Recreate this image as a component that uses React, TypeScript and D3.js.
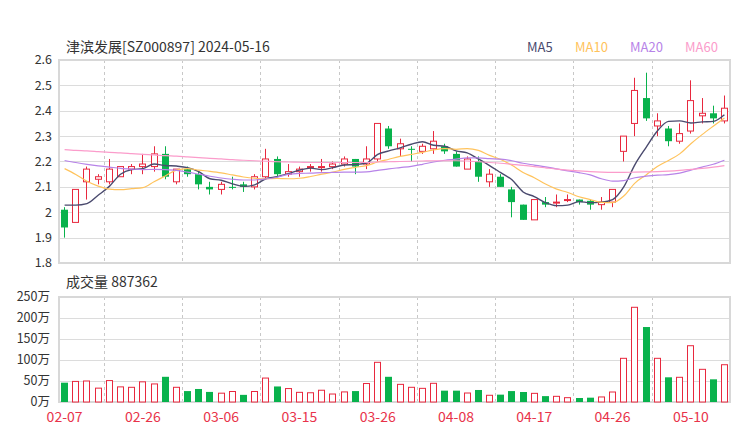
import * as d3 from "d3";

// daily K-line, 津滨发展 SZ000897, 60 sessions from 02-07
const opens = [
  2.01, 1.96, 2.12, 2.13, 2.12, 2.14, 2.17, 2.18, 2.18, 2.23,
  2.12, 2.17, 2.15, 2.1, 2.09, 2.1, 2.11, 2.1, 2.14, 2.21,
  2.15, 2.16, 2.18, 2.18, 2.18, 2.19, 2.21, 2.19, 2.21, 2.33,
  2.25, 2.25, 2.24, 2.25, 2.26, 2.23, 2.17, 2.2, 2.12, 2.14,
  2.09, 2.03, 1.97, 2.04, 2.04, 2.05, 2.05, 2.045, 2.03, 2.04,
  2.24, 2.35, 2.45, 2.34, 2.33, 2.28, 2.32, 2.38, 2.39, 2.36,
];
const highs = [
  2.02, 2.09, 2.18, 2.15, 2.21, 2.18, 2.19, 2.23, 2.26, 2.26,
  2.17, 2.18, 2.16, 2.12, 2.12, 2.14, 2.12, 2.15, 2.25, 2.22,
  2.19, 2.18, 2.19, 2.21, 2.2, 2.22, 2.21, 2.26, 2.35, 2.34,
  2.29, 2.26, 2.27, 2.32, 2.27, 2.24, 2.22, 2.22, 2.17, 2.15,
  2.1, 2.03, 2.05, 2.06, 2.07, 2.07, 2.05, 2.05, 2.06, 2.09,
  2.3, 2.53, 2.55, 2.39, 2.34, 2.35, 2.52, 2.45, 2.42, 2.46,
];
const lows = [
  1.9, 1.96, 2.05, 2.11, 2.11, 2.14, 2.15, 2.15, 2.16, 2.13,
  2.11, 2.14, 2.09, 2.07, 2.07, 2.09, 2.08, 2.09, 2.13, 2.14,
  2.14, 2.14, 2.16, 2.16, 2.17, 2.18, 2.15, 2.17, 2.2, 2.25,
  2.22, 2.2, 2.23, 2.23, 2.23, 2.18, 2.17, 2.12, 2.1, 2.1,
  1.98, 1.97, 1.97, 2.02, 2.02, 2.04, 2.03, 2.01, 2.01, 2.02,
  2.2, 2.3, 2.36, 2.3, 2.26, 2.27, 2.31, 2.35, 2.35, 2.35,
];
const closes = [
  1.94, 2.09, 2.17, 2.14, 2.17, 2.18, 2.18, 2.19, 2.23, 2.14,
  2.17, 2.15, 2.11, 2.09, 2.11, 2.1, 2.1, 2.14, 2.21, 2.15,
  2.16, 2.17, 2.18, 2.18, 2.19, 2.21, 2.18, 2.21, 2.35, 2.26,
  2.27, 2.25, 2.26, 2.28, 2.24, 2.18, 2.21, 2.14, 2.15, 2.1,
  2.04, 1.97, 2.05, 2.03, 2.04, 2.05, 2.04, 2.03, 2.04, 2.09,
  2.3, 2.48, 2.37, 2.36, 2.28, 2.31, 2.44, 2.39, 2.37, 2.41,
];
// volume in 万 shares
const volumes = [
  46, 49, 50, 33, 51, 36, 35, 48, 43, 60,
  35, 26, 31, 24, 21, 25, 17, 25, 57, 37,
  32, 23, 22, 28, 19, 24, 26, 44, 94.5, 60,
  42, 35, 32.5, 44.5, 27, 27, 21.4, 28.6, 16, 17.5,
  26, 23.8, 20.6, 14, 13.5, 10.3, 9.5, 10.3, 12, 23.8,
  104, 225.5, 178.5, 104, 58.8, 58.8, 134, 77.8, 54, 88.7362,
];
const ma5 = [
  2.028, 2.028, 2.034, 2.067, 2.102, 2.15, 2.168, 2.172, 2.19, 2.184,
  2.182, 2.176, 2.16, 2.132, 2.126, 2.112, 2.102, 2.108, 2.132, 2.14,
  2.152, 2.166, 2.174, 2.168, 2.176, 2.186, 2.188, 2.194, 2.228, 2.242,
  2.254, 2.268, 2.278, 2.264, 2.26, 2.242, 2.234, 2.21, 2.184, 2.156,
  2.128, 2.08, 2.062, 2.038, 2.026, 2.028, 2.042, 2.038, 2.04, 2.05,
  2.1, 2.188, 2.256, 2.32, 2.358, 2.36, 2.352, 2.356, 2.358, 2.384,
];
const ma10 = [
  2.172, 2.149, 2.122, 2.103, 2.091, 2.089, 2.093, 2.097, 2.12, 2.143,
  2.166, 2.172, 2.166, 2.161, 2.155, 2.147, 2.139, 2.134, 2.132, 2.133,
  2.132, 2.134, 2.141, 2.15, 2.158, 2.169, 2.177, 2.184, 2.198, 2.209,
  2.22, 2.228, 2.236, 2.246, 2.251, 2.248, 2.251, 2.244, 2.224, 2.208,
  2.185, 2.157, 2.136, 2.111, 2.091, 2.078, 2.061, 2.05, 2.039, 2.038,
  2.064, 2.115, 2.147, 2.18, 2.204, 2.23, 2.27, 2.306, 2.339, 2.371,
];
const ma20 = [
  2.204, 2.196, 2.189, 2.183, 2.178, 2.173, 2.17, 2.168, 2.169, 2.168,
  2.165, 2.158, 2.15, 2.142, 2.135, 2.13, 2.127, 2.127, 2.131, 2.138,
  2.149, 2.153, 2.154, 2.156, 2.157, 2.158, 2.158, 2.159, 2.165, 2.171,
  2.176, 2.181, 2.189, 2.198, 2.205, 2.209, 2.214, 2.214, 2.211, 2.209,
  2.203, 2.193, 2.186, 2.179, 2.171, 2.163, 2.156, 2.147, 2.132, 2.123,
  2.125, 2.136, 2.142, 2.146, 2.148, 2.154, 2.166, 2.178, 2.189, 2.205,
];
const ma60 = [
  2.247, 2.244, 2.242, 2.239, 2.236, 2.234, 2.231, 2.228, 2.226, 2.223,
  2.221, 2.218, 2.215, 2.212, 2.21, 2.207, 2.205, 2.203, 2.201, 2.199,
  2.198, 2.197, 2.196, 2.196, 2.196, 2.196, 2.196, 2.196, 2.198, 2.199,
  2.2, 2.201, 2.202, 2.203, 2.203, 2.203, 2.202, 2.199, 2.196, 2.193,
  2.189, 2.185, 2.18, 2.175, 2.17, 2.166, 2.163, 2.16, 2.158, 2.157,
  2.157, 2.158, 2.159, 2.16, 2.162, 2.165, 2.169, 2.173, 2.178, 2.184,
];

const tickLabels = ["02-07", "02-26", "03-06", "03-15", "03-26", "04-08", "04-17", "04-26", "05-10"];
const tickIndex = [0, 7, 14, 21, 28, 35, 42, 49, 56];
const gridAfter = [3, 10, 17, 24, 31, 38, 45, 52];
const priceTicks = [1.8, 1.9, 2, 2.1, 2.2, 2.3, 2.4, 2.5, 2.6];
const volumeTicks = [0, 50, 100, 150, 200, 250];
const maNames = ["MA5", "MA10", "MA20", "MA60"];

const RED = "#e8283e";
const GREEN = "#08b24c";
const maColors = ["#4a4a6e", "#ffc35c", "#b783e8", "#fb9ccb"];
const FONT = '"Noto Sans CJK SC", "Noto Sans", sans-serif';

const left = 59;
const right = 730;
const priceTop = 60;
const priceBottom = 263;
const volTop = 297;
const volBottom = 402;

export default function App() {
  const idx = d3.range(closes.length);
  const x = d3.scaleBand<number>().domain(idx).range([left, right]).paddingInner(0.4).paddingOuter(0.2);
  const step = x.step();
  const cx = (i: number) => (x(i) ?? 0) + x.bandwidth() / 2;
  const y = d3.scaleLinear().domain([1.8, 2.6]).range([priceBottom, priceTop]);
  const yv = d3.scaleLinear().domain([0, 250]).range([volBottom, volTop]);

  // doji candles take their colour from the previous close
  const isUp = (i: number) => {
    if (closes[i] > opens[i]) return true;
    if (closes[i] < opens[i]) return false;
    return i === 0 || closes[i] >= closes[i - 1];
  };

  const mas = [ma5, ma10, ma20, ma60];
  const line = d3
    .line<number>()
    .x((_, i) => cx(i))
    .y((d) => y(d))
    .curve(d3.curveMonotoneX);

  const px = (v: number) => Math.round(v) + 0.5;

  return (
    <svg
      width={740}
      height={440}
      style={{ position: "absolute", left: 0, top: 0, background: "#fff", fontFamily: FONT }}
    >
      <text x={66} y={52} fontSize={14} fill="#333">
        津滨发展[SZ000897] 2024-05-16
      </text>
      {maNames.map((n, k) => (
        <text key={n} x={[527, 575, 630, 685][k]} y={52} fontSize={13} fill={maColors[k]}>
          {n}
        </text>
      ))}

      {/* price panel grid */}
      {priceTicks.map((t) => (
        <g key={t}>
          <line x1={left} x2={right} y1={px(y(t))} y2={px(y(t))} stroke="#dcdcdc" />
          <text x={52} y={y(t)} dy="0.35em" textAnchor="end" fontSize={12.5} fill="#333">
            {d3.format("")(t)}
          </text>
        </g>
      ))}
      {volumeTicks.map((t) => (
        <g key={t}>
          <line x1={left} x2={right} y1={px(yv(t))} y2={px(yv(t))} stroke="#dcdcdc" />
          <text x={50} y={yv(t)} dy="0.35em" textAnchor="end" fontSize={12.5} fill="#333">
            {t}万
          </text>
        </g>
      ))}
      {gridAfter.map((g) => (
        <g key={g} stroke="#c8c8c8" strokeDasharray="3,3">
          <line x1={px(cx(g) + step / 2)} x2={px(cx(g) + step / 2)} y1={priceTop} y2={priceBottom} />
          <line x1={px(cx(g) + step / 2)} x2={px(cx(g) + step / 2)} y1={volTop} y2={volBottom} />
        </g>
      ))}
      <rect x={left} y={priceTop} width={right - left} height={priceBottom - priceTop} fill="none" stroke="#d8d8d8" strokeWidth={2} />
      <rect x={left} y={volTop} width={right - left} height={volBottom - volTop} fill="none" stroke="#d8d8d8" strokeWidth={2} />

      {/* candles */}
      {idx.map((i) => {
        const up = isUp(i);
        const c = up ? RED : GREEN;
        const xl = Math.round(cx(i) - 3.5);
        const wx = xl + 3.5;
        const top = y(Math.max(opens[i], closes[i]));
        const bot = y(Math.min(opens[i], closes[i]));
        const h = Math.max(bot - top, 1);
        if (up) {
          return (
            <g key={i} stroke={c}>
              <line x1={wx} x2={wx} y1={y(highs[i])} y2={top} />
              <line x1={wx} x2={wx} y1={top + h} y2={y(lows[i])} />
              <rect x={xl + 0.5} y={top} width={6} height={h} fill="#fff" />
            </g>
          );
        }
        return (
          <g key={i}>
            <line x1={wx} x2={wx} y1={y(highs[i])} y2={y(lows[i])} stroke={c} />
            <rect x={xl} y={top} width={7} height={h} fill={c} />
          </g>
        );
      })}

      {mas.map((m, k) => (
        <path key={k} d={line(m) ?? ""} fill="none" stroke={maColors[k]} strokeWidth={k === 0 ? 1.4 : 1.2} />
      ))}

      {/* volume */}
      <text x={66} y={287} fontSize={14} fill="#333">
        成交量 {Math.round(volumes[volumes.length - 1] * 10000)}
      </text>
      {idx.map((i) => {
        const xl = Math.round(cx(i) - 3.5);
        const top = yv(volumes[i]);
        if (closes[i] >= opens[i]) {
          return (
            <rect key={i} x={xl + 0.5} y={top} width={6} height={volBottom - top} fill="#fff" stroke={RED} />
          );
        }
        return <rect key={i} x={xl} y={top} width={7} height={volBottom - top} fill={GREEN} />;
      })}

      {tickIndex.map((ti, k) => (
        <text key={ti} x={cx(ti)} y={422} textAnchor="middle" fontSize={14} fill="#e8334a">
          {tickLabels[k]}
        </text>
      ))}
    </svg>
  );
}
